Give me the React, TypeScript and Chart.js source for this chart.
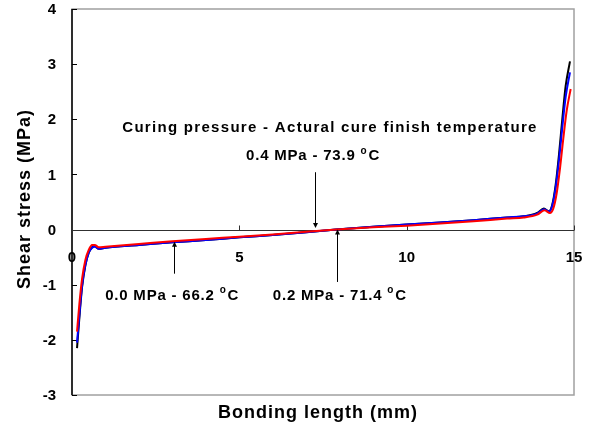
import React, { useEffect, useRef } from "react";
import { Chart, registerables } from "chart.js";

Chart.register(...registerables);

// ---- data ----
const xBlack = [0.15, 0.22, 0.3, 0.4, 0.5, 0.6, 0.68, 0.8, 1.0, 2, 3, 4, 5, 6, 7, 7.9, 9, 10, 11, 12, 13, 13.5, 13.9, 14.1, 14.25, 14.35, 14.45, 14.55, 14.65, 14.75, 14.88];
const yBlack = [-2.15, -1.6, -1.05, -0.65, -0.42, -0.32, -0.3, -0.35, -0.33, -0.28, -0.23, -0.19, -0.14, -0.1, -0.05, 0, 0.05, 0.09, 0.13, 0.17, 0.22, 0.24, 0.3, 0.38, 0.33, 0.45, 0.8, 1.35, 2.0, 2.6, 3.05];

const xBlue = [0.15, 0.22, 0.3, 0.4, 0.5, 0.6, 0.68, 0.8, 1.0, 2, 3, 4, 5, 6, 7, 7.9, 9, 10, 11, 12, 13, 13.5, 13.9, 14.1, 14.25, 14.35, 14.45, 14.55, 14.65, 14.75, 14.88];
const yBlue = [-2.05, -1.55, -1.02, -0.64, -0.42, -0.33, -0.31, -0.35, -0.33, -0.28, -0.23, -0.19, -0.14, -0.1, -0.05, 0, 0.05, 0.09, 0.13, 0.17, 0.22, 0.24, 0.29, 0.37, 0.33, 0.43, 0.75, 1.25, 1.85, 2.4, 2.85];

const xRed = [0.15, 0.22, 0.3, 0.4, 0.5, 0.6, 0.68, 0.8, 1.0, 2, 3, 4, 5, 6, 7, 7.9, 9, 10, 11, 12, 13, 13.5, 13.9, 14.12, 14.28, 14.38, 14.48, 14.58, 14.68, 14.78, 14.9];
const yRed = [-1.85, -1.35, -0.9, -0.55, -0.37, -0.28, -0.28, -0.32, -0.31, -0.26, -0.21, -0.17, -0.13, -0.09, -0.04, 0, 0.04, 0.07, 0.11, 0.15, 0.2, 0.22, 0.27, 0.35, 0.3, 0.38, 0.65, 1.1, 1.65, 2.15, 2.55];

const xTicks = [0, 5, 10, 15];
const yTicks = [-3, -2, -1, 0, 1, 2, 3, 4];

const xTitle = "Bonding length (mm)";
const yTitle = "Shear stress (MPa)";
const headerText = "Curing pressure - Actural cure finish temperature";

// annotations
const annLabels = ["0.4 MPa - 73.9 ", "0.0 MPa - 66.2 ", "0.2 MPa - 71.4 "];
const annLabelX = [5.2, 0.99, 6.0];
const annLabelY = [1.33, -1.2, -1.2];
const annArrowX = [7.26, 3.04, 7.92];
const annArrowFrom = [1.04, -0.8, -0.95];
const annArrowTo = [0.03, -0.22, 0.0];

const FONT = "'Liberation Sans', Arial, sans-serif";

const axesPlugin = {
  id: "excelAxes",
  beforeDatasetsDraw(chart: any) {
    const ctx = chart.ctx as CanvasRenderingContext2D;
    const { left, right, top, bottom } = chart.chartArea;
    const xs = chart.scales.x;
    const ys = chart.scales.y;
    ctx.save();
    ctx.strokeStyle = "#a0a0a0";
    ctx.lineWidth = 1.5;
    ctx.strokeRect(left, top, right - left, bottom - top);
    ctx.strokeStyle = "#000";
    ctx.lineWidth = 1.5;
    ctx.beginPath();
    ctx.moveTo(left, top);
    ctx.lineTo(left, bottom);
    ctx.stroke();
    ctx.lineWidth = 1;
    for (const v of yTicks) {
      const py = Math.round(ys.getPixelForValue(v)) + 0.5;
      ctx.beginPath();
      ctx.moveTo(left, py);
      ctx.lineTo(left + 5, py);
      ctx.stroke();
    }
    const y0 = Math.round(ys.getPixelForValue(0)) + 0.5;
    ctx.strokeStyle = "#303030";
    ctx.lineWidth = 1;
    ctx.beginPath();
    ctx.moveTo(left, y0);
    ctx.lineTo(right, y0);
    ctx.stroke();
    for (const v of xTicks) {
      const px = Math.round(xs.getPixelForValue(v)) + 0.5;
      ctx.beginPath();
      ctx.moveTo(px, y0);
      ctx.lineTo(px, y0 - 5);
      ctx.stroke();
    }
    ctx.fillStyle = "#000";
    ctx.font = `bold 15px ${FONT}`;
    ctx.textAlign = "right";
    ctx.textBaseline = "middle";
    for (const v of yTicks) {
      ctx.fillText(String(v), left - 16, ys.getPixelForValue(v) + 1);
    }
    ctx.textAlign = "center";
    for (const v of xTicks) {
      ctx.fillText(String(v), xs.getPixelForValue(v), y0 + 27);
    }
    ctx.font = `bold 18px ${FONT}`;
    (ctx as any).letterSpacing = "1px";
    ctx.textAlign = "center";
    ctx.fillText(xTitle, 318, 413);
    ctx.save();
    ctx.translate(25, 199);
    ctx.rotate(-Math.PI / 2);
    ctx.fillText(yTitle, 0, 0);
    ctx.restore();
    ctx.restore();
  },
  afterDatasetsDraw(chart: any) {
    const ctx = chart.ctx as CanvasRenderingContext2D;
    const xs = chart.scales.x;
    const ys = chart.scales.y;
    ctx.save();
    ctx.fillStyle = "#000";
    ctx.strokeStyle = "#000";
    ctx.font = `bold 15px ${FONT}`;
    (ctx as any).letterSpacing = "1.3px";
    ctx.textAlign = "center";
    ctx.textBaseline = "middle";
    ctx.fillText(headerText, 330, 128);
    (ctx as any).letterSpacing = "0.8px";
    for (let i = 0; i < annLabels.length; i++) {
      const px = Math.round(xs.getPixelForValue(annArrowX[i])) + 0.5;
      const pFrom = ys.getPixelForValue(annArrowFrom[i]);
      const pTo = ys.getPixelForValue(annArrowTo[i]);
      const dir = pTo > pFrom ? 1 : -1;
      ctx.lineWidth = 1;
      ctx.beginPath();
      ctx.moveTo(px, pFrom);
      ctx.lineTo(px, pTo - dir * 4);
      ctx.stroke();
      ctx.beginPath();
      ctx.moveTo(px, pTo);
      ctx.lineTo(px - 2.5, pTo - dir * 5);
      ctx.lineTo(px + 2.5, pTo - dir * 5);
      ctx.closePath();
      ctx.fill();
      const lx = xs.getPixelForValue(annLabelX[i]);
      const ly = ys.getPixelForValue(annLabelY[i]);
      ctx.textAlign = "left";
      ctx.font = `bold 15px ${FONT}`;
      ctx.fillText(annLabels[i], lx, ly);
      const w = ctx.measureText(annLabels[i]).width;
      ctx.font = `bold 10px ${FONT}`;
      ctx.fillText("o", lx + w, ly - 5);
      const w2 = ctx.measureText("o").width;
      ctx.font = `bold 15px ${FONT}`;
      ctx.fillText("C", lx + w + w2 + 1, ly);
    }
    ctx.restore();
  },
};

export default function App() {
  const ref = useRef<HTMLCanvasElement | null>(null);
  useEffect(() => {
    document.body.style.margin = "0";
    const mk = (xs: number[], ys: number[], color: string) => ({
      data: xs.map((x, i) => ({ x, y: ys[i] })),
      borderColor: color,
      borderWidth: 2,
      pointRadius: 0,
      fill: false,
      cubicInterpolationMode: "monotone" as const,
    });
    const chart = new Chart(ref.current!, {
      type: "line",
      data: {
        datasets: [
          mk(xRed, yRed, "#ff0000"),
          mk(xBlue, yBlue, "#0000ff"),
          mk(xBlack, yBlack, "#000000"),
        ],
      },
      options: {
        responsive: false,
        devicePixelRatio: 1,
        animation: false,
        layout: { padding: { left: 72, top: 9, right: 20, bottom: 51 } },
        scales: {
          x: { type: "linear", min: 0, max: 15, display: false },
          y: { type: "linear", min: -3, max: 4, display: false },
        },
        plugins: { legend: { display: false }, tooltip: { enabled: false } },
      },
      plugins: [axesPlugin],
    });
    return () => chart.destroy();
  }, []);
  return (
    <div style={{ position: "absolute", left: 0, top: 0, width: 594, height: 446, background: "#fff" }}>
      <canvas ref={ref} width={594} height={446} />
    </div>
  );
}
